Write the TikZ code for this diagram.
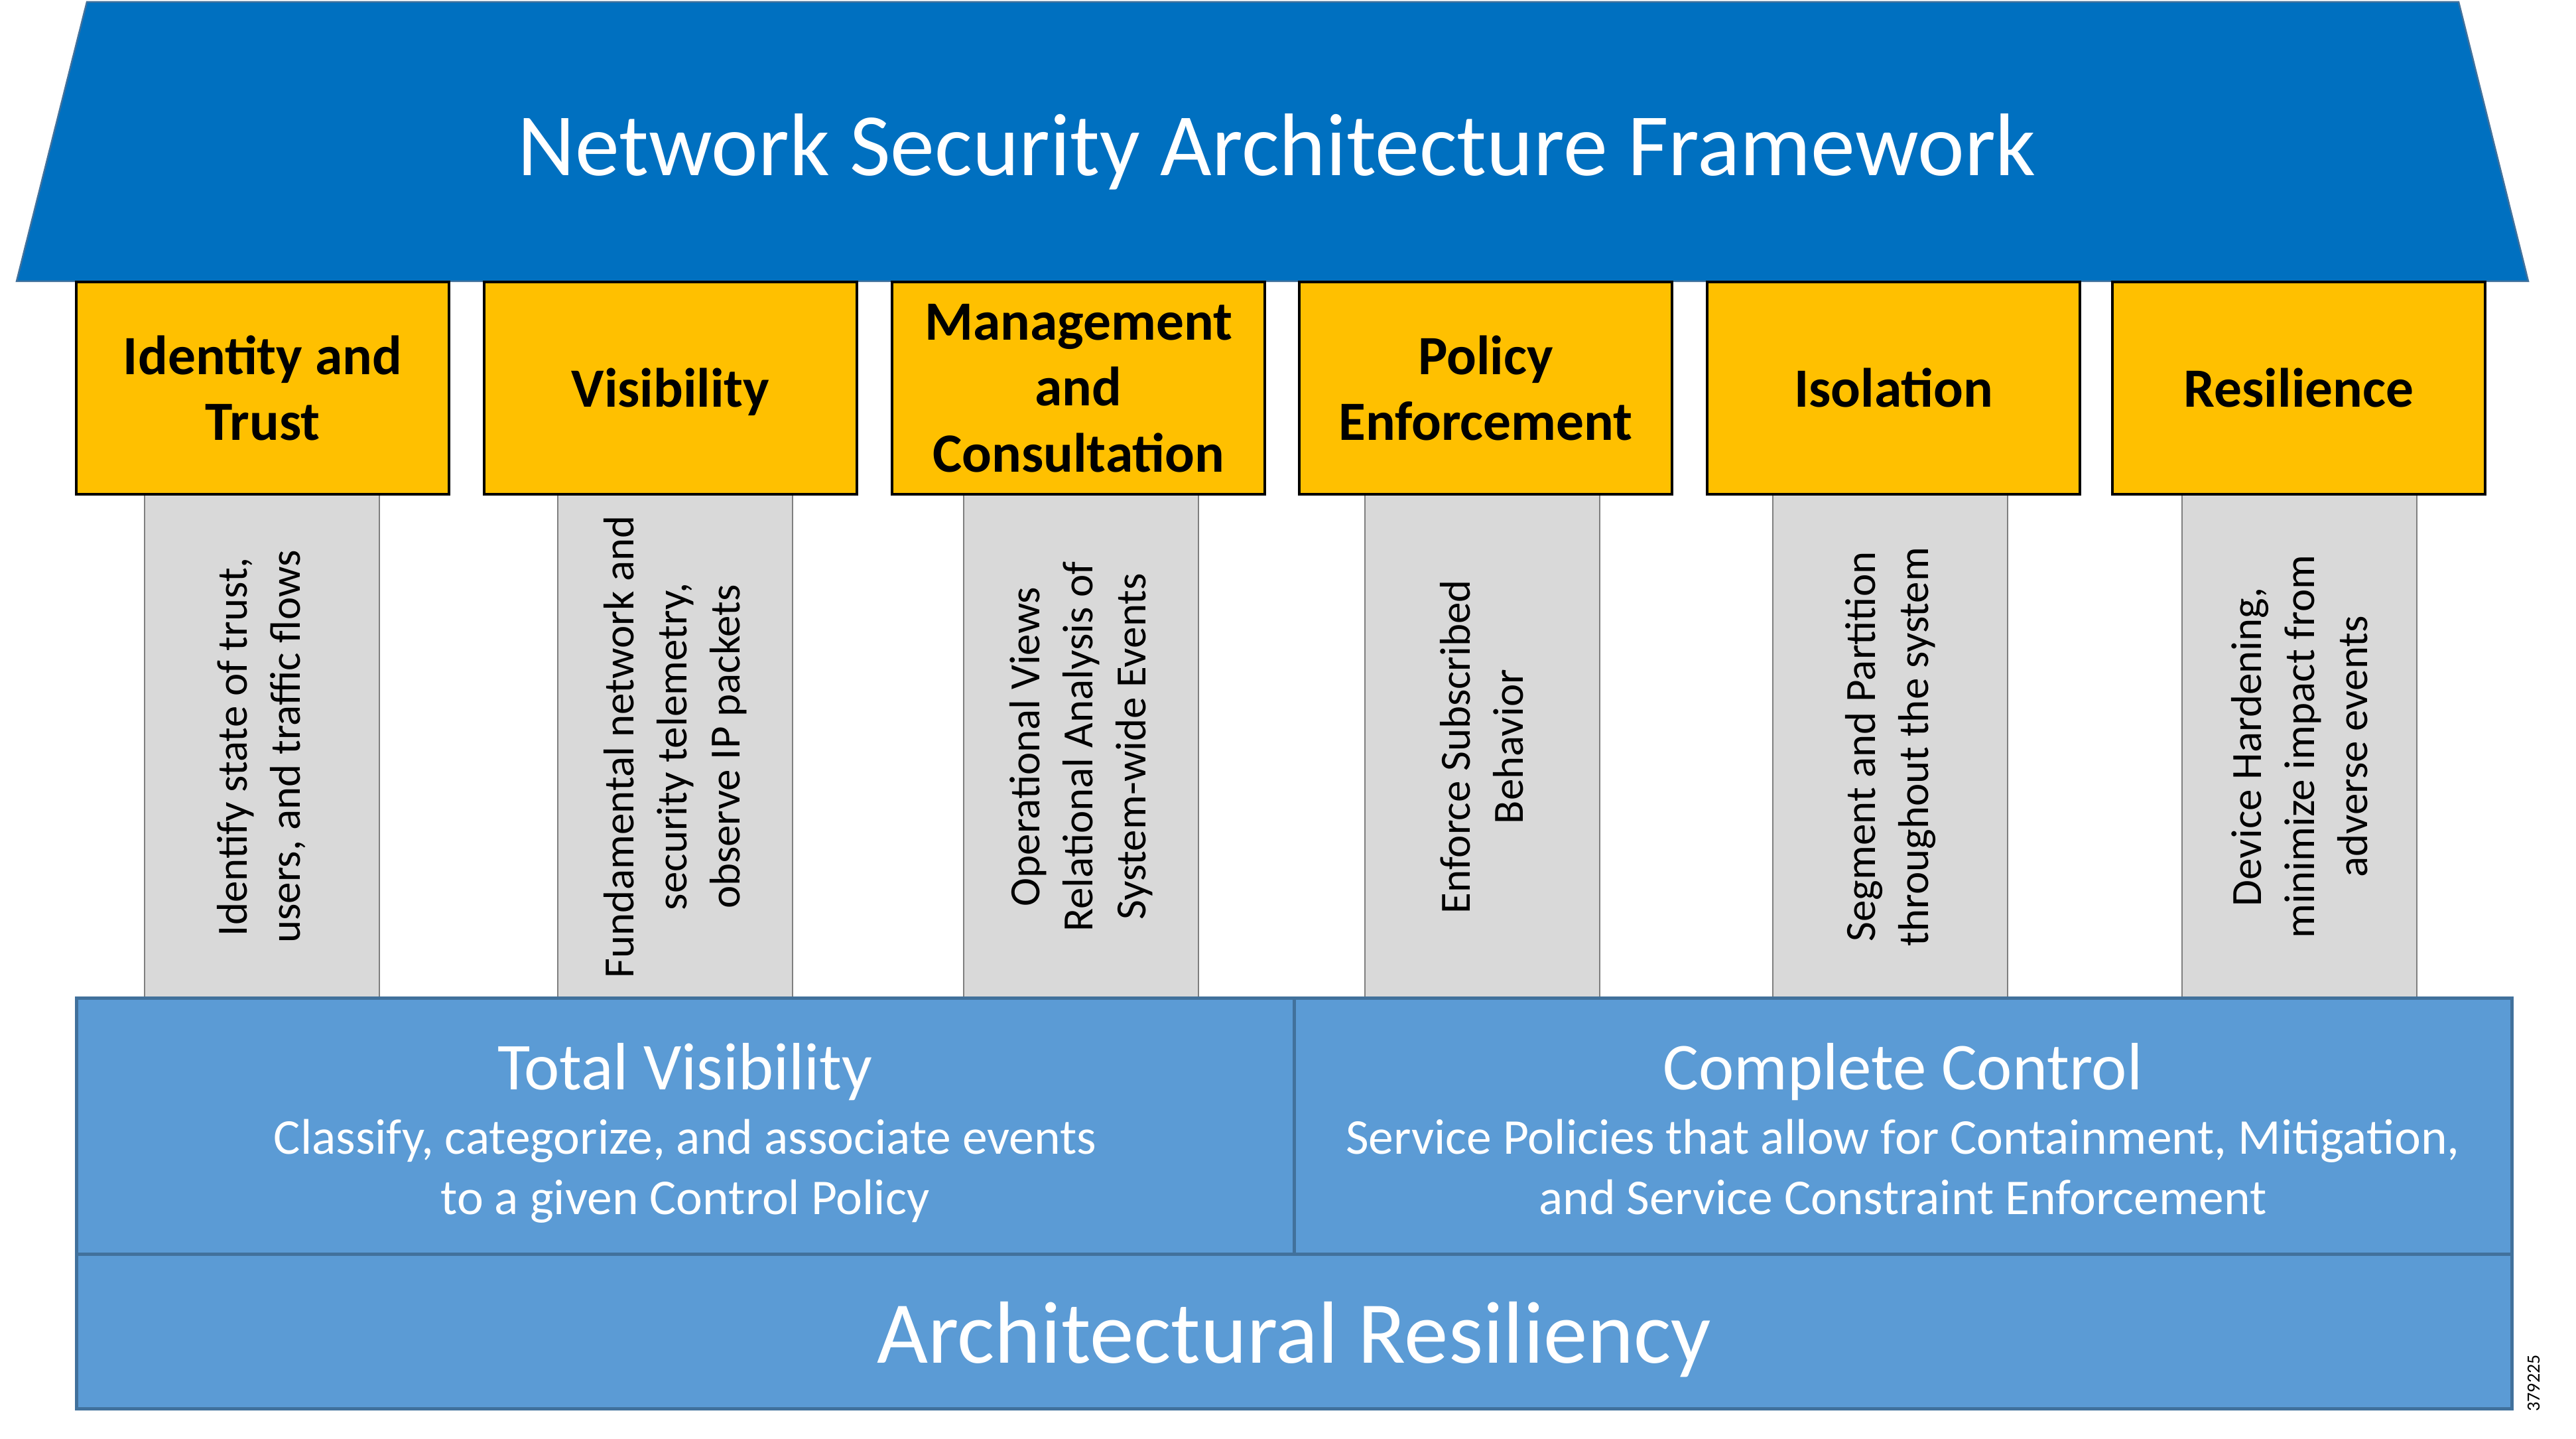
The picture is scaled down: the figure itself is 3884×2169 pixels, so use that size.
\documentclass[tikz,border=0pt]{standalone}
\usepackage{fontspec}
\setmainfont{Carlito}
\definecolor{roofblue}{HTML}{0070C0}
\definecolor{roofedge}{HTML}{41719C}
\definecolor{gold}{HTML}{FFC000}
\definecolor{pillargray}{HTML}{D9D9D9}
\definecolor{pillaredge}{HTML}{7F7F7F}
\definecolor{baseblue}{HTML}{5B9BD5}
\definecolor{baseedge}{HTML}{41719C}
\begin{document}
\begin{tikzpicture}[x=0.1pt,y=-0.1pt,
  roof/.style={fill=roofblue,draw=roofedge,line width=0.25pt},
  headbox/.style={fill=gold,draw=black,line width=0.4pt,minimum width=56.2pt,minimum height=32pt,inner sep=0pt},
  headtext/.style={align=center,inner sep=0pt,font=\fontsize{8.35}{9.95}\selectfont\bfseries},
  pillar/.style={fill=pillargray,draw=pillaredge,line width=0.2pt,minimum width=35.4pt,minimum height=75.9pt,inner sep=0pt},
  pillartext/.style={rotate=90,align=center,inner sep=0pt,font=\fontsize{6.5}{8}\selectfont},
  basecell/.style={fill=baseblue,draw=baseedge,line width=0.5pt,inner sep=0pt},
  whitetext/.style={text=white,inner sep=0pt,anchor=base}
]
\useasboundingbox (0,0) rectangle (3884,2169);
% roof
\path[roof] (131,3) -- (3707,3) -- (3812,424) -- (25,424) -- cycle;
\node[whitetext,font=\fontsize{13.4}{16}\selectfont] (title) at (1925,265) {Network Security Architecture Framework};
% pillars
\node[pillar] (p1) at (394.5,1125.5) {};
\node[pillar] (p2) at (1018,1125.5) {};
\node[pillar] (p3) at (1630,1125.5) {};
\node[pillar] (p4) at (2234.5,1125.5) {};
\node[pillar] (p5) at (2850,1125.5) {};
\node[pillar] (p6) at (3467,1125.5) {};
\node[pillartext] (t1) at (p1.center) {Identify state of trust,\\users, and traffic flows};
\node[pillartext] (t2) at (p2.center) {Fundamental network and\\security telemetry,\\observe IP packets};
\node[pillartext] (t3) at (p3.center) {Operational Views\\Relational Analysis of\\System-wide Events};
\node[pillartext] (t4) at (p4.center) {Enforce Subscribed\\Behavior};
\node[pillartext] (t5) at (p5.center) {Segment and Partition\\throughout the system};
\node[pillartext] (t6) at (p6.center) {Device Hardening,\\minimize impact from\\adverse events};
% head boxes
\node[headbox] (h1) at (396,585) {};
\node[headbox] (h2) at (1011,585) {};
\node[headbox] (h3) at (1626,585) {};
\node[headbox] (h4) at (2240,585) {};
\node[headbox] (h5) at (2855,585) {};
\node[headbox] (h6) at (3466,585) {};
\node[headtext] (l1) at (h1.center) {Identity and\\Trust};
\node[headtext,anchor=base] (l2) at ([yshift=-2.9pt]h2.center) {Visibility};
\node[headtext] (l3) at (h3.center) {Management\\and\\Consultation};
\node[headtext] (l4) at (h4.center) {Policy\\Enforcement};
\node[headtext,anchor=base] (l5) at ([yshift=-2.9pt]h5.center) {Isolation};
\node[headtext,anchor=base] (l6) at ([yshift=-2.9pt]h6.center) {Resilience};
% base
\path[basecell] (115,1505) rectangle (1951,1890);
\path[basecell] (1951,1505) rectangle (3787,1890);
\path[basecell] (115,1890) rectangle (3787,2123);
\node[whitetext,font=\fontsize{10.1}{12}\selectfont] (tv) at (1033,1642) {Total Visibility};
\node[whitetext,font=\fontsize{7.55}{9}\selectfont] (tv1) at (1033,1739) {Classify, categorize, and associate events};
\node[whitetext,font=\fontsize{7.55}{9}\selectfont] (tv2) at (1033,1830) {to a given Control Policy};
\node[whitetext,font=\fontsize{10.1}{12}\selectfont] (cc) at (2869,1642) {Complete Control};
\node[whitetext,font=\fontsize{7.55}{9}\selectfont] (cc1) at (2869,1739) {Service Policies that allow for Containment, Mitigation,};
\node[whitetext,font=\fontsize{7.55}{9}\selectfont] (cc2) at (2869,1830) {and Service Constraint Enforcement};
\node[whitetext,font=\fontsize{13.3}{16}\selectfont] (ar) at (1951,2054) {Architectural Resiliency};
\node[rotate=90,inner sep=0pt,font=\fontsize{2.8}{3.4}\selectfont] (fig) at (3820,2085) {379225};
\end{tikzpicture}
\end{document}
